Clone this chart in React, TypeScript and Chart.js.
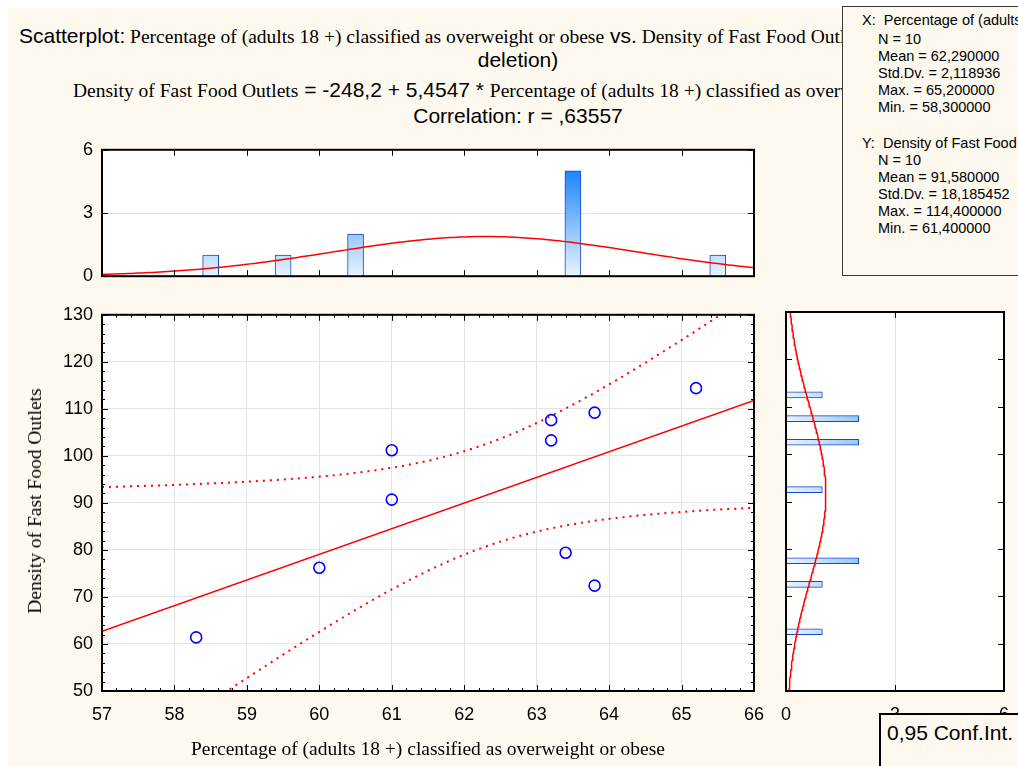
import React, { useEffect, useRef } from "react";
import { Chart, registerables } from "chart.js";

Chart.register(...registerables);

// ---------------- data ----------------
const xValues = [58.3, 60.0, 61.0, 61.0, 63.2, 63.2, 63.4, 63.8, 63.8, 65.2];
const yValues = [61.4, 76.2, 101.2, 90.7, 107.6, 103.3, 79.4, 109.2, 72.4, 114.4];
const interceptA = -248.2;
const slopeB = 5.4547;
const tCrit = 2.306; // 0.95 conf, df = 8

const xBinCenters = [57.5, 58.5, 59.5, 60.5, 61.5, 62.5, 63.5, 64.5, 65.5];
const xBinCounts = [0, 1, 1, 2, 0, 0, 5, 0, 1];
const yBinCenters = [52.5, 57.5, 62.5, 67.5, 72.5, 77.5, 82.5, 87.5, 92.5, 97.5, 102.5, 107.5, 112.5, 117.5, 122.5, 127.5];
const yBinCounts = [0, 0, 1, 0, 1, 2, 0, 0, 1, 0, 2, 2, 1, 0, 0, 0];

const xRange = [57, 66];
const yRange = [50, 130];
const countRange = [0, 6];
const xBinWidth = 1;
const yBinWidth = 5;

const xStatsLines = ["N = 10", "Mean = 62,290000", "Std.Dv. = 2,118936", "Max. = 65,200000", "Min. = 58,300000"];
const yStatsLines = ["N = 10", "Mean = 91,580000", "Std.Dv. = 18,185452", "Max. = 114,400000", "Min. = 61,400000"];

// ---------------- derived ----------------
const n = xValues.length;
const mean = (a: number[]) => a.reduce((s, v) => s + v, 0) / a.length;
const xMean = mean(xValues);
const yMean = mean(yValues);
const sd = (a: number[], m: number) => Math.sqrt(a.reduce((s, v) => s + (v - m) ** 2, 0) / (a.length - 1));
const xSd = sd(xValues, xMean);
const ySd = sd(yValues, yMean);
const sxx = xValues.reduce((s, v) => s + (v - xMean) ** 2, 0);
const sse = xValues.reduce((s, v, i) => s + (yValues[i] - (interceptA + slopeB * v)) ** 2, 0);
const sRes = Math.sqrt(sse / (n - 2));

const steps = (lo: number, hi: number, count: number) => {
  const out: number[] = [];
  for (let i = 0; i <= count; i++) out.push(lo + ((hi - lo) * i) / count);
  return out;
};
const gridX = steps(xRange[0], xRange[1], 180);
const gridY = steps(yRange[0], yRange[1], 160);

const regLine = [xRange[0], xRange[1]].map((x) => ({ x, y: interceptA + slopeB * x }));
const halfWidth = (x: number) => tCrit * sRes * Math.sqrt(1 / n + (x - xMean) ** 2 / sxx);
const upperBand = gridX.map((x) => ({ x, y: interceptA + slopeB * x + halfWidth(x) }));
const lowerBand = gridX.map((x) => ({ x, y: interceptA + slopeB * x - halfWidth(x) }));

const normal = (v: number, m: number, s: number) => Math.exp(-0.5 * ((v - m) / s) ** 2) / (s * Math.sqrt(2 * Math.PI));
const xNormal = gridX.map((x) => ({ x, y: n * xBinWidth * normal(x, xMean, xSd) }));
const yNormal = gridY.map((y) => ({ x: n * yBinWidth * normal(y, yMean, ySd), y }));

// ---------------- style ----------------
const SANS = '"Liberation Sans", Arial, Helvetica, sans-serif';
const SERIF = '"Liberation Serif", "Times New Roman", Times, serif';
const BG = "#fdf9ef";

type FrameOpts = { xMajor?: number; xMinor?: number; yMajor?: number; yMinor?: number };

const framePlugin = {
  id: "frame",
  beforeDraw(chart: any) {
    const { ctx, chartArea: a } = chart;
    if (!a) return;
    ctx.save();
    ctx.fillStyle = "#ffffff";
    ctx.fillRect(a.left, a.top, a.right - a.left, a.bottom - a.top);
    ctx.restore();
  },
  afterDatasetsDraw(chart: any, _args: any, opts: FrameOpts) {
    const { ctx, chartArea: a, scales } = chart;
    const xs = scales.x;
    const ys = scales.y;
    ctx.save();
    ctx.strokeStyle = "#000";
    ctx.lineWidth = 1;
    ctx.beginPath();
    const tickX = (step: number | undefined, len: number) => {
      if (!step) return;
      const cnt = Math.round((xs.max - xs.min) / step);
      for (let i = 0; i <= cnt; i++) {
        const p = Math.round(xs.getPixelForValue(xs.min + i * step)) + 0.5;
        ctx.moveTo(p, a.bottom);
        ctx.lineTo(p, a.bottom - len);
        ctx.moveTo(p, a.top);
        ctx.lineTo(p, a.top + len);
      }
    };
    const tickY = (step: number | undefined, len: number) => {
      if (!step) return;
      const cnt = Math.round((ys.max - ys.min) / step);
      for (let i = 0; i <= cnt; i++) {
        const p = Math.round(ys.getPixelForValue(ys.min + i * step)) + 0.5;
        ctx.moveTo(a.left, p);
        ctx.lineTo(a.left + len, p);
        ctx.moveTo(a.right, p);
        ctx.lineTo(a.right - len, p);
      }
    };
    tickX(opts.xMinor, 3);
    tickY(opts.yMinor, 3);
    tickX(opts.xMajor, 6);
    tickY(opts.yMajor, 6);
    ctx.stroke();
    ctx.lineWidth = 2;
    ctx.strokeRect(a.left, a.top, a.right - a.left, a.bottom - a.top);
    ctx.restore();
  },
};

const tickFont = { family: SANS, size: 18 };

function vGradient(c: any) {
  const { chart } = c;
  const { ctx, chartArea, scales } = chart;
  if (!chartArea) return "#a8d2ff";
  const g = ctx.createLinearGradient(0, scales.y.getPixelForValue(0), 0, scales.y.getPixelForValue(5));
  g.addColorStop(0, "#e9f4ff");
  g.addColorStop(1, "#1c86fb");
  return g;
}
function hGradient(c: any) {
  const { chart } = c;
  const { ctx, chartArea, scales } = chart;
  if (!chartArea) return "#a8d2ff";
  const g = ctx.createLinearGradient(scales.x.getPixelForValue(0), 0, scales.x.getPixelForValue(5), 0);
  g.addColorStop(0, "#e9f4ff");
  g.addColorStop(1, "#1c86fb");
  return g;
}

function useChart(ref: React.RefObject<HTMLCanvasElement>, make: () => any) {
  useEffect(() => {
    if (!ref.current) return;
    const chart = new Chart(ref.current, make());
    return () => chart.destroy();
  }, []);
}

export default function App() {
  const mainRef = useRef<HTMLCanvasElement>(null);
  const topRef = useRef<HTMLCanvasElement>(null);
  const rightRef = useRef<HTMLCanvasElement>(null);

  useChart(mainRef, () => ({
    type: "scatter",
    data: {
      datasets: [
        {
          data: xValues.map((x, i) => ({ x, y: yValues[i] })),
          pointRadius: 5.5,
          pointBorderWidth: 1.6,
          pointBorderColor: "#0000ff",
          pointBackgroundColor: "rgba(0,0,0,0)",
          showLine: false,
        },
        { data: regLine, showLine: true, borderColor: "#ff0000", borderWidth: 1.5, pointRadius: 0 },
        { data: upperBand, showLine: true, borderColor: "#ff0000", borderWidth: 2, borderDash: [2, 5], pointRadius: 0 },
        { data: lowerBand, showLine: true, borderColor: "#ff0000", borderWidth: 2, borderDash: [2, 5], pointRadius: 0 },
      ],
    },
    options: {
      responsive: false,
      animation: false,
      events: [],
      layout: { padding: 0 },
      plugins: { legend: { display: false }, tooltip: { enabled: false }, frame: { xMajor: 1, xMinor: 0.2, yMajor: 10, yMinor: 2 } },
      scales: {
        x: {
          type: "linear",
          min: xRange[0],
          max: xRange[1],
          ticks: { stepSize: 1, font: tickFont, color: "#000", padding: 13 },
          grid: { color: "#e3e3e3", drawTicks: false },
          border: { display: false },
          afterFit: (s: any) => { s.height = 75; },
        },
        y: {
          type: "linear",
          min: yRange[0],
          max: yRange[1],
          ticks: { stepSize: 10, font: tickFont, color: "#000", padding: 9 },
          grid: { color: "#e3e3e3", drawTicks: false },
          border: { display: false },
          afterFit: (s: any) => { s.width = 102; },
        },
      },
    },
    plugins: [framePlugin],
  }));

  useChart(topRef, () => ({
    type: "bar",
    data: {
      datasets: [
        {
          type: "line",
          data: xNormal,
          borderColor: "#ff0000",
          borderWidth: 1.5,
          pointRadius: 0,
          order: 0,
        },
        {
          type: "bar",
          data: xBinCenters.map((x, i) => ({ x, y: xBinCounts[i] })),
          backgroundColor: vGradient,
          borderColor: "#1848c8",
          borderWidth: 1,
          barThickness: 16,
          order: 1,
        },
      ],
    },
    options: {
      responsive: false,
      animation: false,
      events: [],
      layout: { padding: { top: 0, right: 21, left: 0, bottom: 0 } },
      plugins: { legend: { display: false }, tooltip: { enabled: false }, frame: { xMajor: 1, yMajor: 3 } },
      scales: {
        x: { type: "linear", min: xRange[0], max: xRange[1], offset: false, display: false },
        y: {
          type: "linear",
          min: countRange[0],
          max: countRange[1],
          ticks: { stepSize: 3, font: tickFont, color: "#000", padding: 9 },
          grid: { color: (c: any) => (c.tick && c.tick.value === 3 ? "#e3e3e3" : "rgba(0,0,0,0)"), drawTicks: false },
          border: { display: false },
          afterFit: (s: any) => { s.width = 102; },
        },
      },
    },
    plugins: [framePlugin],
  }));

  useChart(rightRef, () => ({
    type: "bar",
    data: {
      datasets: [
        {
          type: "line",
          indexAxis: "y",
          data: yNormal,
          borderColor: "#ff0000",
          borderWidth: 1.5,
          pointRadius: 0,
          order: 0,
        },
        {
          type: "bar",
          indexAxis: "y",
          data: yBinCenters.map((y, i) => ({ x: yBinCounts[i], y })),
          backgroundColor: hGradient,
          borderColor: "#1848c8",
          borderWidth: 1,
          barThickness: 6,
          order: 1,
        },
      ],
    },
    options: {
      indexAxis: "y",
      responsive: false,
      animation: false,
      events: [],
      layout: { padding: { top: 9, left: 0, right: 0, bottom: 0 } },
      plugins: { legend: { display: false }, tooltip: { enabled: false }, frame: { xMajor: 3, yMajor: 10 } },
      scales: {
        x: {
          type: "linear",
          min: countRange[0],
          max: countRange[1],
          offset: false,
          ticks: { stepSize: 3, font: tickFont, color: "#000", padding: 13 },
          grid: { color: (c: any) => (c.tick && c.tick.value === 3 ? "#e3e3e3" : "rgba(0,0,0,0)"), drawTicks: false },
          border: { display: false },
          afterFit: (s: any) => { s.height = 75; },
        },
        y: { type: "linear", min: yRange[0], max: yRange[1], offset: false, display: false },
      },
    },
    plugins: [framePlugin],
  }));

  const abs = (left: number, top: number, extra: React.CSSProperties = {}): React.CSSProperties => ({
    position: "absolute",
    left,
    top,
    whiteSpace: "nowrap",
    ...extra,
  });
  const sansT: React.CSSProperties = { fontFamily: SANS, fontSize: 21 };
  const serifT: React.CSSProperties = { fontFamily: SERIF, fontSize: 19.5 };

  return (
    <div style={{ position: "absolute", left: 0, top: 0, width: 1018, height: 766, overflow: "hidden", background: "#ffffff" }}>
      <div style={{ position: "absolute", left: 8, top: 8, width: 1010, height: 758, background: BG }} />

      {/* titles */}
      <div style={abs(19, 23, { lineHeight: "26px", color: "#000" })}>
        <span style={sansT}>Scatterplot:</span>
        <span style={serifT}> Percentage of (adults 18 +) classified as overweight or obese</span>
        <span style={sansT}> vs.</span>
        <span style={serifT}> Density of Fast Food Outlets</span>
        <span style={sansT}> (Casewise MD</span>
      </div>
      <div style={abs(518, 47, { ...sansT, lineHeight: "26px", transform: "translateX(-50%)" })}>deletion)</div>
      <div style={abs(73, 77, { lineHeight: "26px", color: "#000" })}>
        <span style={serifT}>Density of Fast Food Outlets</span>
        <span style={sansT}> = -248,2 + 5,4547 * </span>
        <span style={serifT}>Percentage of (adults 18 +) classified as overweight or obese</span>
      </div>
      <div style={abs(518, 103, { ...sansT, lineHeight: "26px", transform: "translateX(-50%)" })}>Correlation: r = ,63557</div>

      {/* charts */}
      <canvas ref={topRef} width={775} height={166} style={{ position: "absolute", left: 0, top: 130 }} />
      <canvas ref={mainRef} width={777} height={471} style={{ position: "absolute", left: 0, top: 295 }} />
      <canvas ref={rightRef} width={254} height={463} style={{ position: "absolute", left: 768, top: 303 }} />

      {/* axis titles */}
      <div style={abs(35, 501, { ...serifT, transform: "translate(-50%, -50%) rotate(-90deg)" })}>Density of Fast Food Outlets</div>
      <div style={abs(428, 749, { ...serifT, transform: "translate(-50%, -50%)" })}>Percentage of (adults 18 +) classified as overweight or obese</div>

      {/* stats box */}
      <div
        style={{
          position: "absolute",
          left: 842,
          top: 6,
          width: 220,
          height: 270,
          border: "1px solid #3a3a3a",
          background: BG,
          fontFamily: SANS,
          fontSize: 14.5,
          lineHeight: "17px",
          color: "#000",
          boxSizing: "border-box",
          zIndex: 2,
        }}
      >
        <div style={abs(19, 5)}>X:&nbsp; Percentage of (adults 18 +) classified</div>
        {xStatsLines.map((t, i) => (
          <div key={"x" + i} style={abs(35, 24 + i * 17)}>{t}</div>
        ))}
        <div style={abs(19, 128)}>Y:&nbsp; Density of Fast Food Outlets</div>
        {yStatsLines.map((t, i) => (
          <div key={"y" + i} style={abs(35, 145 + i * 17)}>{t}</div>
        ))}
      </div>

      {/* legend box */}
      <div
        style={{
          position: "absolute",
          left: 879,
          top: 713,
          width: 200,
          height: 100,
          border: "2px solid #000",
          background: BG,
          boxSizing: "border-box",
          zIndex: 2,
        }}
      >
        <div style={abs(6, 6, { ...sansT, lineHeight: "24px" })}>0,95 Conf.Int.</div>
      </div>
    </div>
  );
}
